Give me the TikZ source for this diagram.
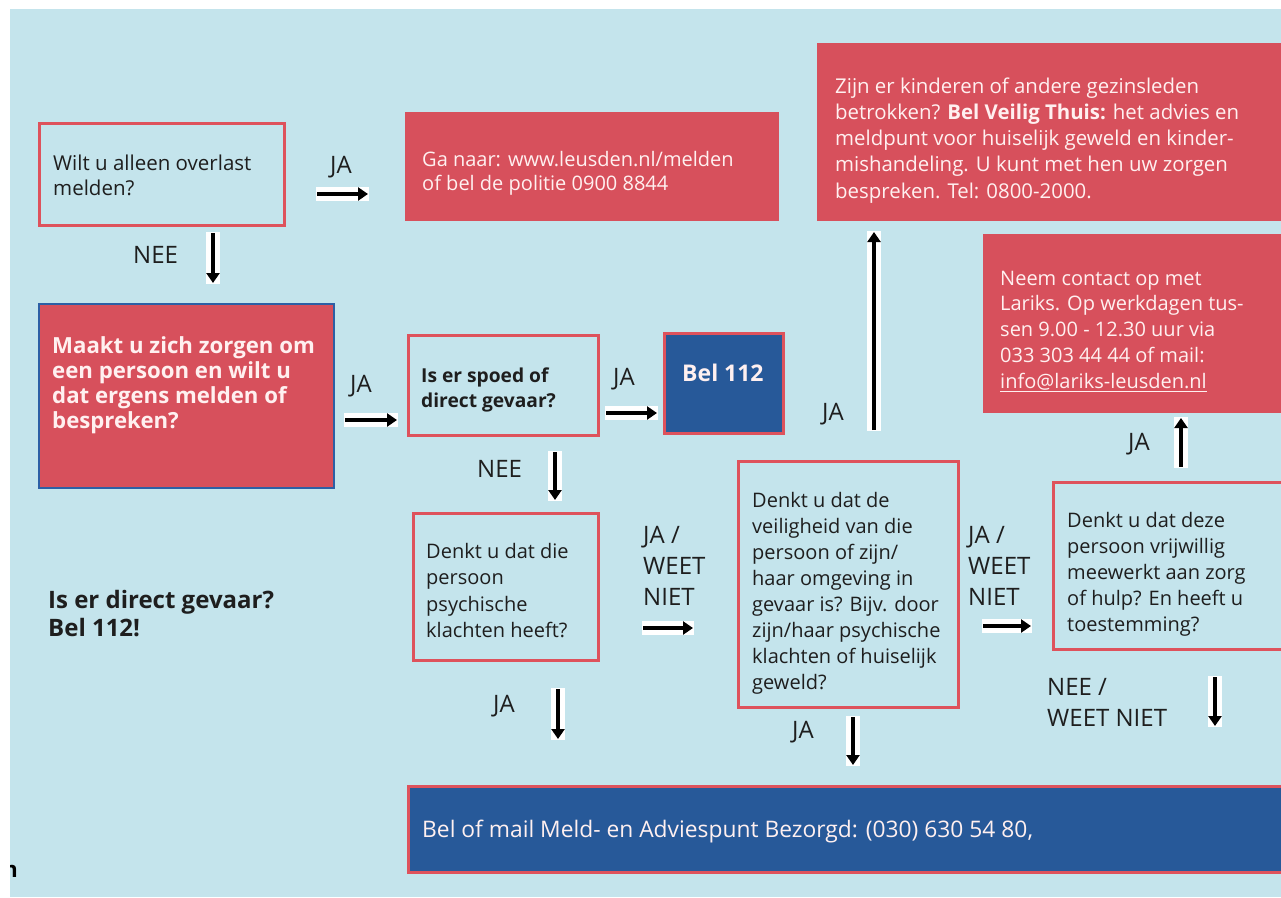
\documentclass[tikz,border=0pt]{standalone}
\usepackage{fontspec}
\setmainfont{Open Sans}
\usetikzlibrary{arrows.meta,calc}
\definecolor{bgblue}{RGB}{196,228,236}
\definecolor{boxred}{RGB}{215,80,92}
\definecolor{edgered}{RGB}{222,82,92}
\definecolor{boxblue}{RGB}{39,89,153}
\definecolor{edgeblue}{RGB}{45,95,165}
\definecolor{lighttext}{RGB}{255,240,240}
\definecolor{darktext}{RGB}{30,30,30}
\newcommand\ml[1]{\vtop{\halign{##\hfil\cr#1\crcr}}}
\tikzset{
  qbox/.style={draw=edgered, line width=2.5pt, inner sep=0pt, anchor=north west},
  infobox/.style={fill=boxred, inner sep=0pt, anchor=north west},
  callbox/.style={fill=boxblue, draw=edgered, line width=2.5pt, inner sep=0pt, anchor=north west},
  txt/.style={inner sep=0pt, anchor=base west, text=darktext},
  wtxt/.style={inner sep=0pt, anchor=base west, text=lighttext},
  lbl/.style={inner sep=0pt, anchor=base west, text=darktext, font=\fontsize{24}{31}\selectfont},
  arr/.style={line width=4pt, -{Triangle[length=10pt,width=13pt]}, black},
  backing/.style={line width=14pt, white, shorten <=-1pt, shorten >=-1pt},
}
\newcommand\flow[2]{\draw[backing] (#1) -- (#2); \draw[arr] (#1) -- (#2);}
\begin{document}
\begin{tikzpicture}[x=1pt,y=-1pt]
\useasboundingbox (0,0) rectangle (1281,897);
\clip (0,0) rectangle (1281,897);
\fill[white] (0,0) rectangle (1281,897);
\fill[bgblue] (10,9) rectangle (1281,897);

% boxes
\node[qbox, minimum width=245pt, minimum height=102pt] (b1) at (38,122) {};
\node[infobox, minimum width=374pt, minimum height=109pt] (b2) at (405,112) {};
\node[infobox, minimum width=480pt, minimum height=178pt] (b3) at (817,43) {};
\node[infobox, minimum width=310pt, minimum height=179pt] (b4) at (983,234) {};
\node[infobox, draw=edgeblue, line width=1.5pt, minimum width=295pt, minimum height=184pt] (b5) at (38,303) {};
\node[qbox, minimum width=190pt, minimum height=100pt] (b6) at (407,334) {};
\node[callbox, minimum width=119pt, minimum height=100pt] (b7) at (663,332) {};
\node[qbox, minimum width=185pt, minimum height=147pt] (b8) at (412,512) {};
\node[qbox, minimum width=220pt, minimum height=246pt] (b9) at (737,460) {};
\node[qbox, minimum width=240pt, minimum height=167pt] (b10) at (1052,481) {};
\node[callbox, minimum width=890pt, minimum height=86pt] (b11) at (407,785) {};

% texts
\node[txt, font=\fontsize{20.5}{25}\selectfont] (t1) at (53,170) {\ml{Wilt u alleen overlast\cr melden?}};
\node[wtxt, font=\fontsize{20}{24}\selectfont] (t2) at (422,166) {\ml{Ga naar: www.leusden.nl/melden\cr of bel de politie 0900 8844}};
\node[wtxt, font=\fontsize{20.4}{26.3}\selectfont] (t3) at (835,93) {\ml{Zijn er kinderen of andere gezinsleden\cr betrokken? \textbf{Bel Veilig Thuis:} het advies en\cr meldpunt voor huiselijk geweld en kinder-\cr mishandeling. U kunt met hen uw zorgen\cr bespreken. Tel: 0800-2000.}};
\node[wtxt, font=\fontsize{20}{25.8}\selectfont] (t4) at (1000,285) {\ml{Neem contact op met\cr Lariks. Op werkdagen tus-\cr sen 9.00 - 12.30 uur via\cr 033 303 44 44 of mail:\cr \underline{info@lariks-leusden.nl}}};
\node[wtxt, font=\bfseries\fontsize{22.2}{25}\selectfont] (t5) at (52,353) {\ml{Maakt u zich zorgen om\cr een persoon en wilt u\cr dat ergens melden of\cr bespreken?}};
\node[txt, font=\bfseries\fontsize{19.2}{25}\selectfont] (t6) at (421,382) {\ml{Is er spoed of\cr direct gevaar?}};
\node[wtxt, font=\bfseries\fontsize{23}{25}\selectfont] (t7) at (682,381) {Bel 112};
\node[txt, font=\fontsize{20}{26.5}\selectfont] (t8) at (426,558) {\ml{Denkt u dat die\cr persoon\cr psychische\cr klachten heeft?}};
\node[txt, font=\fontsize{20}{26}\selectfont] (t9) at (752,507) {\ml{Denkt u dat de\cr veiligheid van die\cr persoon of zijn/\cr haar omgeving in\cr gevaar is? Bijv. door\cr zijn/haar psychische\cr klachten of huiselijk\cr geweld?}};
\node[txt, font=\fontsize{20}{26}\selectfont] (t10) at (1067,527) {\ml{Denkt u dat deze\cr persoon vrijwillig\cr meewerkt aan zorg\cr of hulp? En heeft u\cr toestemming?}};
\node[wtxt, font=\fontsize{22.8}{25}\selectfont] (t11) at (422,837) {Bel of mail Meld- en Adviespunt Bezorgd: (030) 630 54 80,};
\node[txt, font=\bfseries\fontsize{24}{28}\selectfont] (t12) at (48,608) {\ml{Is er direct gevaar?\cr Bel 112!}};

% labels
\node[lbl] (l1) at (330,173) {JA};
\node[lbl] (l2) at (133,263) {NEE};
\node[lbl] (l3) at (350,392) {JA};
\node[lbl] (l4) at (613,385) {JA};
\node[lbl] (l5) at (477,477) {NEE};
\node[lbl] (l6) at (643,543) {\ml{JA /\cr WEET\cr NIET}};
\node[lbl] (l7) at (493,712) {JA};
\node[lbl] (l8) at (822,420) {JA};
\node[lbl] (l9) at (792,738) {JA};
\node[lbl] (l10) at (968,543) {\ml{JA /\cr WEET\cr NIET}};
\node[lbl] (l11) at (1047,695) {\ml{NEE /\cr WEET NIET}};
\node[lbl] (l12) at (1128,450) {JA};

% arrow end points
\coordinate (a1s) at (317,194);  \coordinate (a1e) at (368,194);
\coordinate (a2s) at (213,233);  \coordinate (a2e) at (213,283);
\coordinate (a3s) at (345,420);  \coordinate (a3e) at (397,420);
\coordinate (a4s) at (606,413);  \coordinate (a4e) at (657,413);
\coordinate (a5s) at (555,452);  \coordinate (a5e) at (555,500);
\coordinate (a6s) at (643,628);  \coordinate (a6e) at (693,628);
\coordinate (a7s) at (558,689);  \coordinate (a7e) at (558,739);
\coordinate (a8s) at (874,430);  \coordinate (a8e) at (874,232);
\coordinate (a9s) at (853,717);  \coordinate (a9e) at (853,765);
\coordinate (a10s) at (983,626); \coordinate (a10e) at (1031,626);
\coordinate (a11s) at (1181,467); \coordinate (a11e) at (1181,418);
\coordinate (a12s) at (1215,677); \coordinate (a12e) at (1215,726);

\flow{a1s}{a1e}
\flow{a2s}{a2e}
\flow{a3s}{a3e}
\flow{a4s}{a4e}
\flow{a5s}{a5e}
\flow{a6s}{a6e}
\flow{a7s}{a7e}
\flow{a8s}{a8e}
\flow{a9s}{a9e}
\flow{a10s}{a10e}
\flow{a11s}{a11e}
\flow{a12s}{a12e}

% clipped letter at the lower left edge
\begin{scope}
\clip (10,850) rectangle (30,890);
\node[inner sep=0pt, anchor=base east, font=\bfseries\fontsize{22}{22}\selectfont] (nfrag) at (18,877) {n};
\end{scope}
\end{tikzpicture}
\end{document}
